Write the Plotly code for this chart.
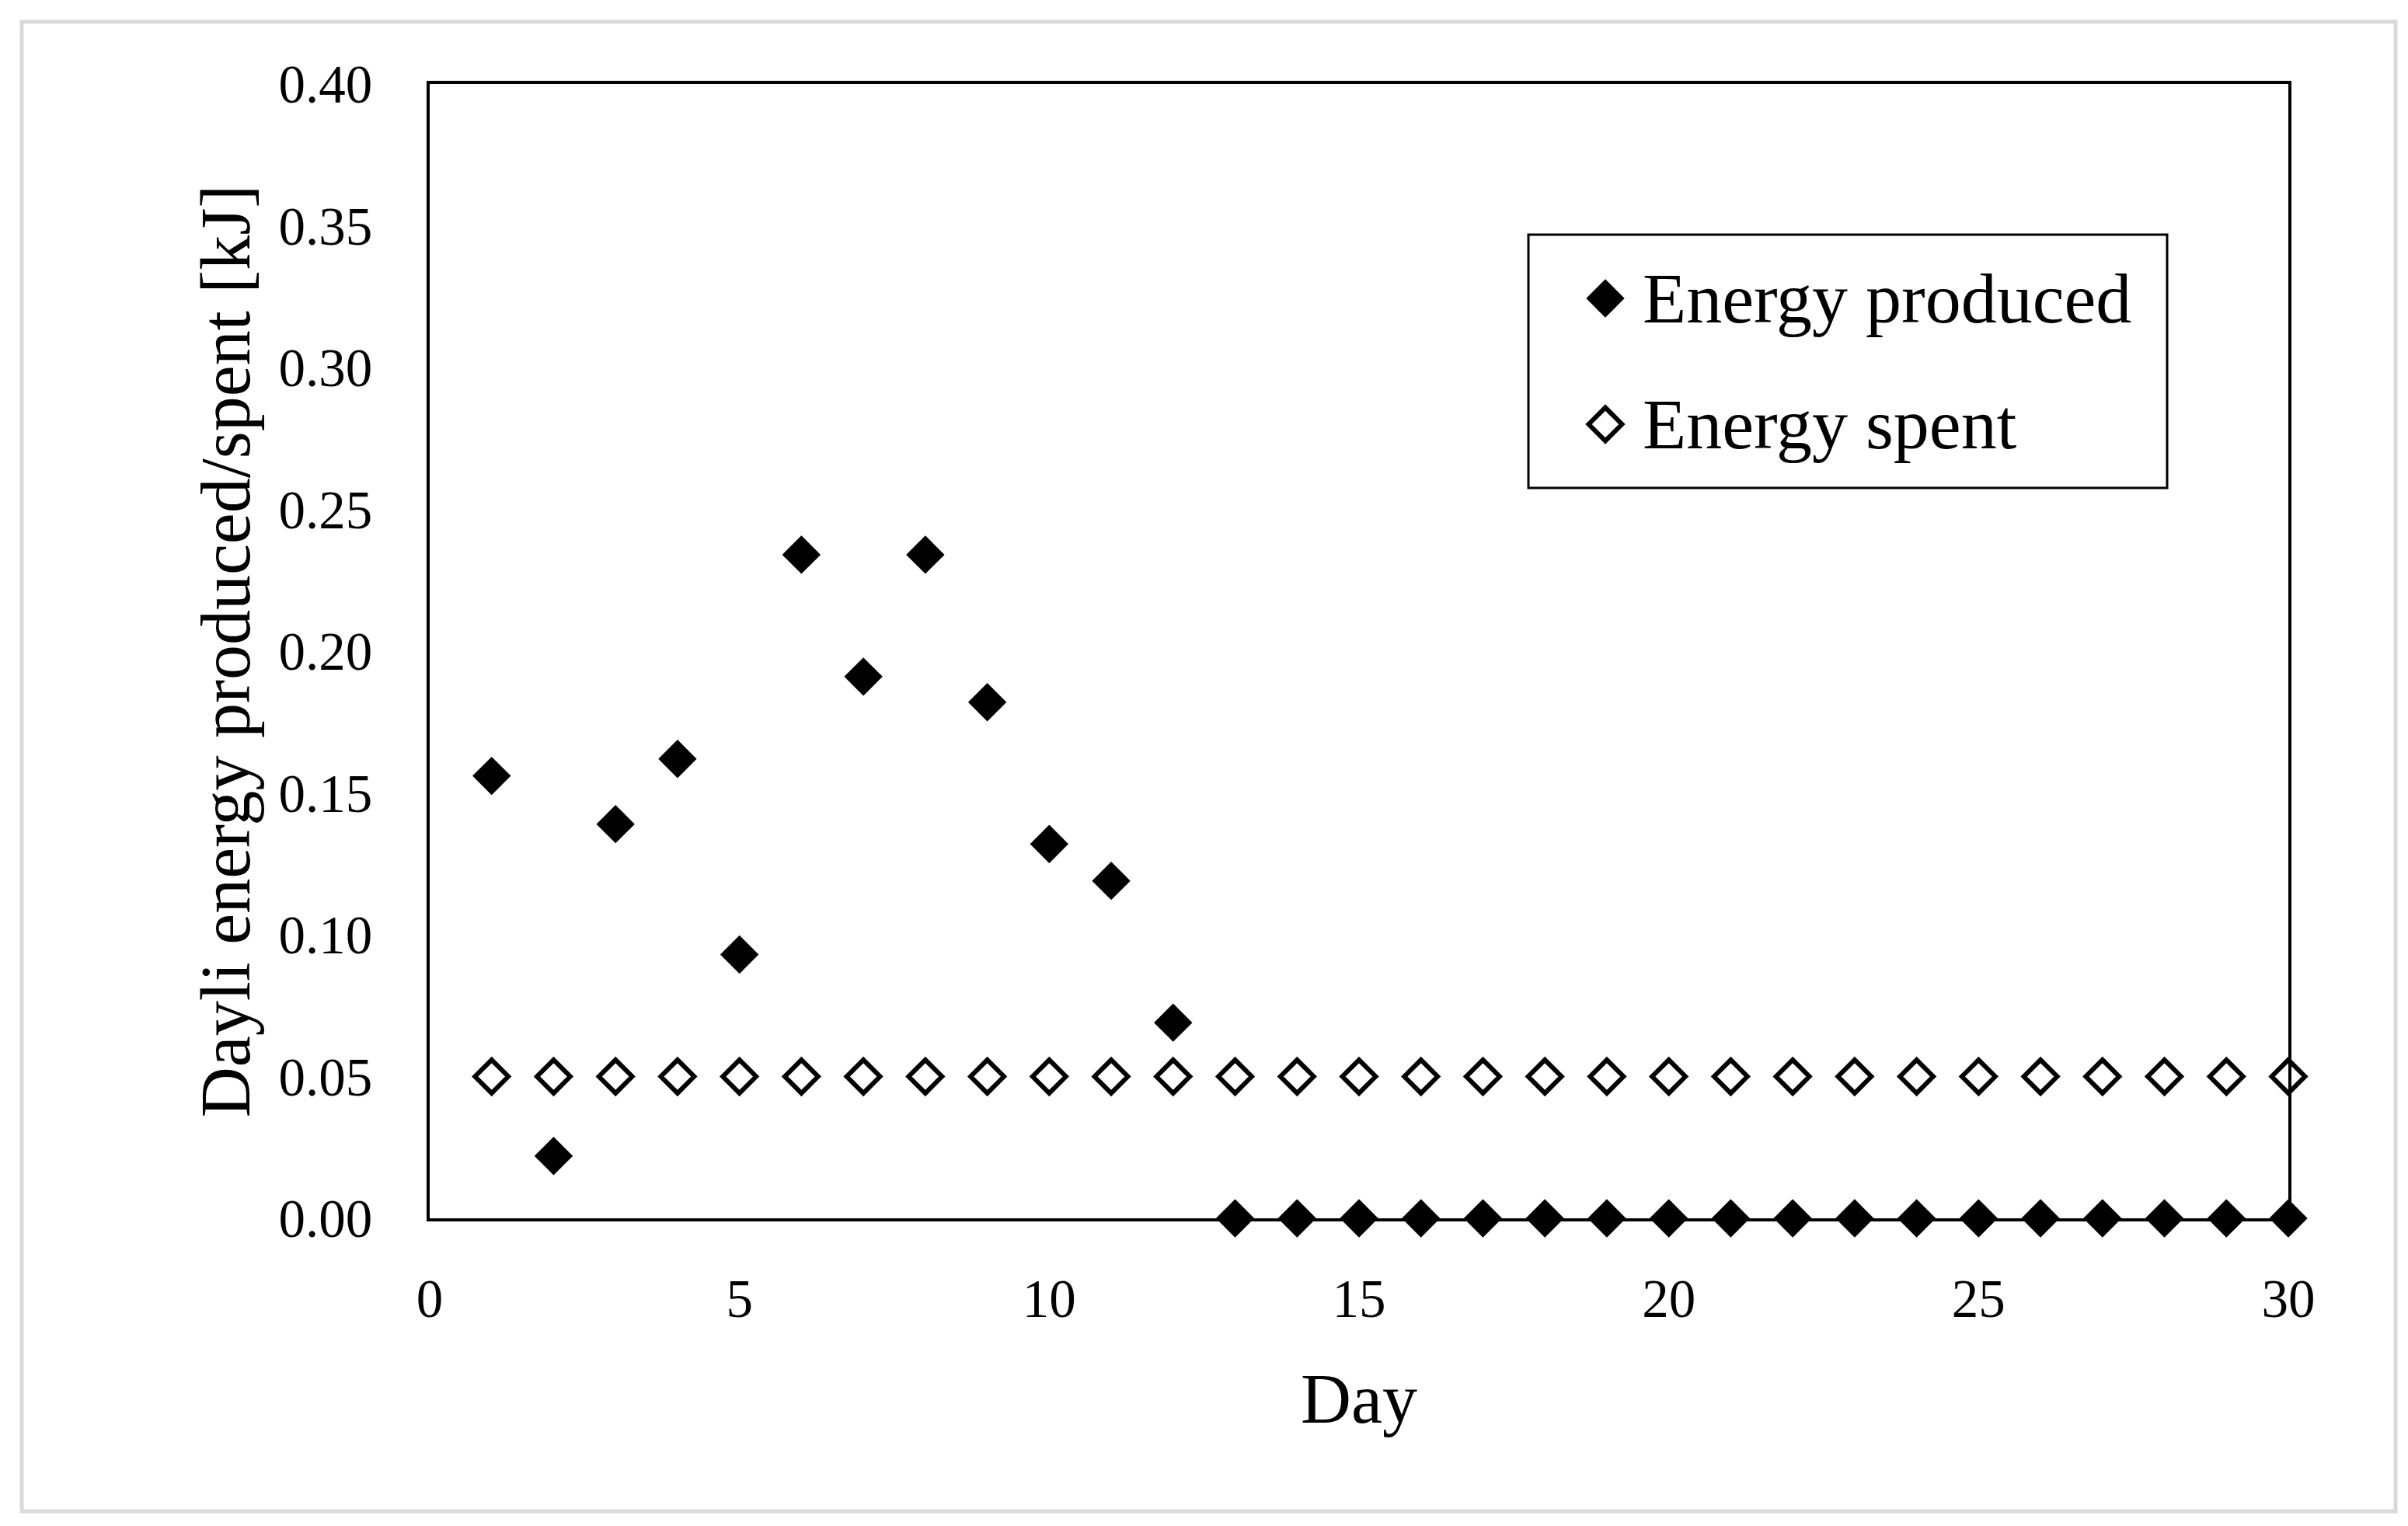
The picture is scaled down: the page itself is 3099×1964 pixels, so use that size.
import plotly.graph_objects as go

days = list(range(1, 31))
energy_produced = [0.156, 0.022, 0.139, 0.162, 0.093, 0.234, 0.191, 0.234, 0.182, 0.132,
                   0.119, 0.069] + [0.0] * 18
energy_spent = [0.05] * 30

series_names = ["Energy produced", "Energy spent"]
y_ticks = [0.0, 0.05, 0.10, 0.15, 0.20, 0.25, 0.30, 0.35, 0.40]
x_ticks = [0, 5, 10, 15, 20, 25, 30]

FONT = "Liberation Serif"

W, H = 3099, 1964
L, T = 545, 100
pw, ph = 2392, 1460
R, B = W - L - pw, H - T - ph


def px(x):
    return (x - L) / pw


def py(y):
    return 1 - (y - T) / ph


filled = dict(symbol="diamond", size=38, color="black", line=dict(width=0))
hollow = dict(symbol="diamond-open", size=33, color="black", line=dict(width=6, color="black"))

fig = go.Figure()
fig.add_trace(go.Scatter(
    x=days, y=energy_produced, mode="markers", name=series_names[0],
    marker=filled, cliponaxis=False, showlegend=False,
))
fig.add_trace(go.Scatter(
    x=days, y=energy_spent, mode="markers", name=series_names[1],
    marker=hollow, cliponaxis=False, showlegend=False,
))

# legend key symbols (drawn on an overlay axis that maps 0..1 to the plot area)
leg_x = px(2058)
leg_rows = [py(376), py(538)]
fig.add_trace(go.Scatter(
    x=[leg_x], y=[leg_rows[0]], xaxis="x2", yaxis="y2", mode="markers",
    marker=filled, cliponaxis=False, showlegend=False, hoverinfo="skip",
))
fig.add_trace(go.Scatter(
    x=[leg_x], y=[leg_rows[1]], xaxis="x2", yaxis="y2", mode="markers",
    marker=hollow, cliponaxis=False, showlegend=False, hoverinfo="skip",
))

annotations = [
    dict(text=name, xref="paper", yref="paper", x=px(2104), y=yy,
         xanchor="left", yanchor="middle", showarrow=False,
         font=dict(family=FONT, size=92, color="black"))
    for name, yy in zip(series_names, leg_rows)
]

fig.update_layout(
    width=W, height=H,
    margin=dict(l=L, r=R, t=T, b=B, pad=0),
    paper_bgcolor="white", plot_bgcolor="white",
    font=dict(family=FONT, color="black"),
    showlegend=False,
    annotations=annotations,
    xaxis=dict(
        range=[0, 30], tickvals=x_ticks, ticktext=[str(v) for v in x_ticks],
        showgrid=False, zeroline=False,
        showline=True, linecolor="black", linewidth=4, mirror=True,
        ticks="", ticklabelstandoff=40,
        tickfont=dict(family=FONT, size=69, color="black"),
        title=dict(text="Day", font=dict(family=FONT, size=90, color="black"), standoff=60),
    ),
    yaxis=dict(
        range=[0, 0.40], tickvals=y_ticks, ticktext=[f"{v:.2f}" for v in y_ticks],
        showgrid=False, zeroline=False,
        showline=True, linecolor="black", linewidth=4, mirror=True,
        ticks="", ticklabelstandoff=56,
        tickfont=dict(family=FONT, size=69, color="black"),
        title=dict(text="Dayli energy produced/spent [kJ]",
                   font=dict(family=FONT, size=90, color="black"), standoff=8),
    ),
    xaxis2=dict(overlaying="x", range=[0, 1], visible=False, anchor="y2"),
    yaxis2=dict(overlaying="y", range=[0, 1], visible=False, anchor="x2"),
    shapes=[
        dict(type="rect", xref="paper", yref="paper",
             x0=px(1959), x1=px(2781), y0=py(620), y1=py(294),
             line=dict(color="black", width=3), fillcolor="rgba(0,0,0,0)", layer="above"),
        dict(type="rect", xref="paper", yref="paper",
             x0=px(20), x1=px(3075), y0=py(1937), y1=py(20),
             line=dict(color="#d9d9d9", width=5), fillcolor="rgba(0,0,0,0)", layer="below"),
    ],
)

fig.write_html("out.html")
